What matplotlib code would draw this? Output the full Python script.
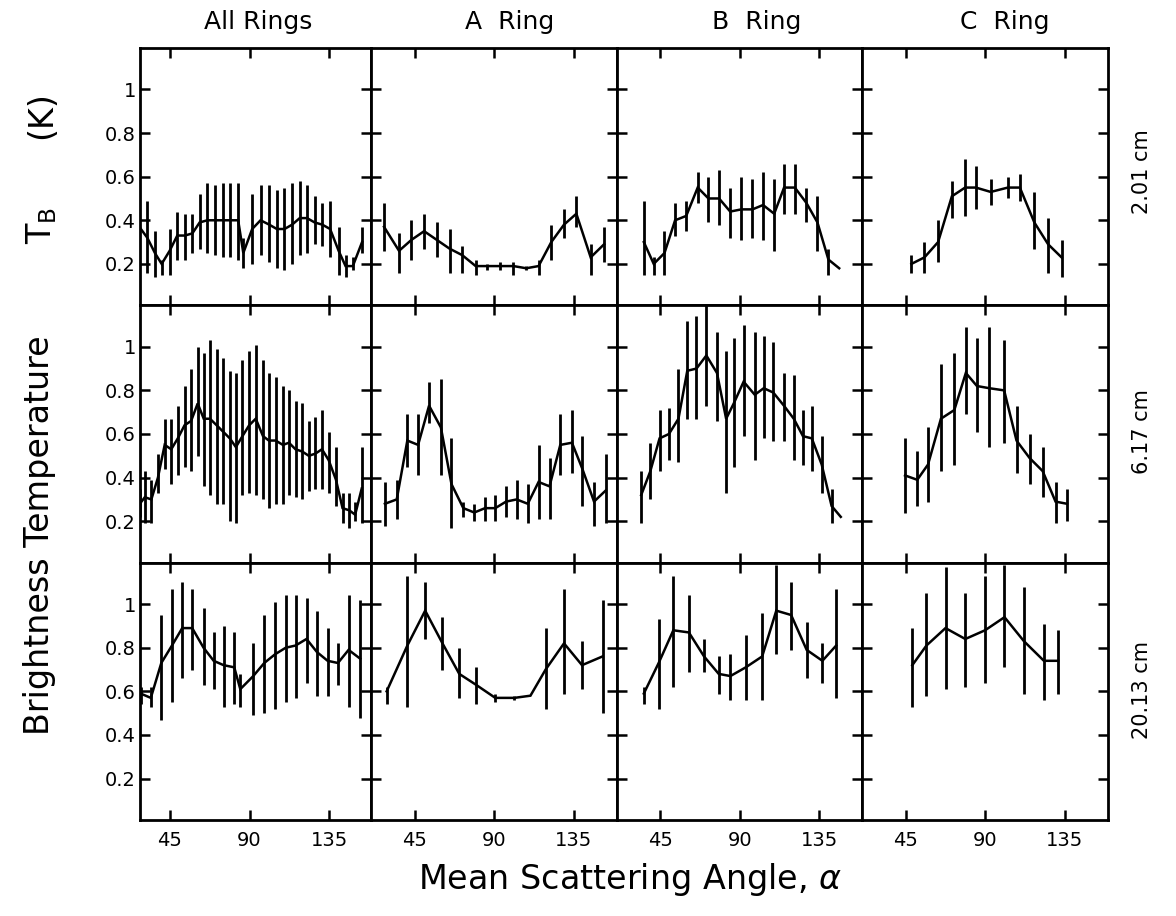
import matplotlib
matplotlib.use("Agg")
import matplotlib.pyplot as plt
import numpy as np

# ---------------- data ----------------
columns = ["All Rings", "A  Ring", "B  Ring", "C  Ring"]
wavelengths = ["2.01 cm", "6.17 cm", "20.13 cm"]
x_ticks = [45, 90, 135]
y_ticks = [0.2, 0.4, 0.6, 0.8, 1.0]
y_tick_labels = ["0.2", "0.4", "0.6", "0.8", "1"]

# --- 2.01 cm ---
all_201_x = [27.0, 32.4, 36.7, 40.5, 45.0, 49.3, 53.6, 57.8, 61.9, 66.2, 70.5, 74.8, 79.1, 83.6, 86.5,
             91.5, 96.2, 101.1, 105.4, 109.7, 114.0, 118.3, 122.4, 126.7, 131.0, 135.4, 140.2, 144.1, 148.2, 153.4]
all_201_t = [0.38, 0.32, 0.25, 0.20, 0.26, 0.33, 0.33, 0.34, 0.39, 0.40, 0.40, 0.40, 0.40, 0.40, 0.25,
             0.36, 0.40, 0.38, 0.36, 0.36, 0.38, 0.41, 0.41, 0.39, 0.38, 0.36, 0.26, 0.19, 0.19, 0.30]
all_201_lo = [0.30, 0.16, 0.14, 0.15, 0.15, 0.22, 0.22, 0.25, 0.27, 0.25, 0.24, 0.23, 0.23, 0.22, 0.18,
              0.20, 0.24, 0.21, 0.18, 0.17, 0.20, 0.24, 0.25, 0.29, 0.28, 0.23, 0.15, 0.14, 0.17, 0.25]
all_201_hi = [0.45, 0.49, 0.35, 0.22, 0.36, 0.44, 0.43, 0.43, 0.52, 0.57, 0.56, 0.57, 0.57, 0.57, 0.32,
              0.52, 0.56, 0.56, 0.54, 0.55, 0.57, 0.58, 0.56, 0.51, 0.48, 0.49, 0.37, 0.24, 0.23, 0.37]

a_201_x = [27.6, 36.1, 43.1, 50.3, 57.5, 64.7, 71.9, 79.5, 85.7, 93.3, 100.9, 108.1, 115.1, 122.3, 129.5, 136.5, 144.6, 152.2]
a_201_t = [0.37, 0.26, 0.31, 0.35, 0.31, 0.27, 0.24, 0.19, 0.19, 0.19, 0.19, 0.18, 0.19, 0.30, 0.38, 0.43, 0.23, 0.29]
a_201_lo = [0.26, 0.16, 0.22, 0.27, 0.23, 0.16, 0.16, 0.15, 0.17, 0.17, 0.15, 0.17, 0.15, 0.22, 0.32, 0.37, 0.15, 0.21]
a_201_hi = [0.48, 0.34, 0.40, 0.43, 0.39, 0.36, 0.28, 0.22, 0.20, 0.21, 0.21, 0.19, 0.22, 0.38, 0.45, 0.51, 0.29, 0.37]

b_201_x = [35.7, 41.3, 47.4, 53.4, 59.7, 66.2, 72.3, 78.3, 84.6, 90.9, 97.2, 103.2, 109.5, 115.1, 121.2, 127.7, 134.0, 140.2, 146.3]
b_201_t = [0.30, 0.20, 0.25, 0.40, 0.42, 0.55, 0.50, 0.50, 0.44, 0.45, 0.45, 0.47, 0.43, 0.55, 0.55, 0.48, 0.39, 0.22, 0.18]
b_201_lo = [0.15, 0.15, 0.15, 0.33, 0.35, 0.48, 0.39, 0.38, 0.32, 0.31, 0.32, 0.31, 0.26, 0.43, 0.43, 0.39, 0.26, 0.15, 0.18]
b_201_hi = [0.49, 0.23, 0.35, 0.48, 0.49, 0.62, 0.60, 0.63, 0.55, 0.60, 0.59, 0.62, 0.59, 0.66, 0.66, 0.55, 0.51, 0.27, 0.18]

c_201_x = [48.2, 55.6, 63.3, 71.1, 78.6, 84.7, 93.1, 102.8, 109.6, 117.8, 125.6, 133.2]
c_201_t = [0.20, 0.23, 0.30, 0.51, 0.55, 0.55, 0.53, 0.55, 0.55, 0.39, 0.29, 0.23]
c_201_lo = [0.16, 0.16, 0.21, 0.41, 0.42, 0.45, 0.47, 0.50, 0.49, 0.27, 0.16, 0.14]
c_201_hi = [0.24, 0.30, 0.40, 0.58, 0.68, 0.65, 0.59, 0.60, 0.61, 0.53, 0.41, 0.31]

# --- 6.17 cm ---
all_617_x = [28.2, 31.0, 34.7, 38.4, 42.2, 45.9, 49.6, 53.4, 57.1, 60.8, 64.2, 67.7, 71.5, 75.2, 78.9, 82.3, 86.0, 89.8,
             93.5, 97.6, 100.9, 104.7, 108.8, 112.2, 115.9, 119.6, 123.4, 127.1, 130.8, 134.6, 138.7, 142.4, 146.2, 149.5, 153.2]
all_617_t = [0.28, 0.31, 0.30, 0.40, 0.55, 0.53, 0.58, 0.64, 0.66, 0.74, 0.67, 0.67, 0.64, 0.61, 0.58, 0.54, 0.59, 0.64,
             0.67, 0.59, 0.57, 0.57, 0.55, 0.56, 0.53, 0.52, 0.50, 0.51, 0.53, 0.48, 0.39, 0.26, 0.25, 0.23, 0.35]
all_617_lo = [0.22, 0.19, 0.19, 0.33, 0.44, 0.37, 0.41, 0.45, 0.43, 0.50, 0.36, 0.32, 0.28, 0.28, 0.20, 0.19, 0.32, 0.33,
              0.32, 0.30, 0.26, 0.28, 0.28, 0.32, 0.31, 0.30, 0.34, 0.35, 0.35, 0.33, 0.27, 0.19, 0.17, 0.20, 0.19]
all_617_hi = [0.35, 0.43, 0.39, 0.51, 0.67, 0.67, 0.73, 0.82, 0.90, 1.00, 0.97, 1.03, 0.99, 0.95, 0.89, 0.88, 0.94, 0.98,
              1.01, 0.94, 0.88, 0.86, 0.82, 0.80, 0.75, 0.74, 0.66, 0.68, 0.71, 0.61, 0.54, 0.33, 0.33, 0.29, 0.54]

a_617_x = [28.1, 34.8, 40.8, 46.9, 53.1, 59.8, 65.8, 72.5, 78.7, 84.8, 90.6, 96.7, 102.7, 109.0, 115.1, 121.3, 127.4, 134.0, 139.9, 146.5, 153.0]
a_617_t = [0.28, 0.30, 0.57, 0.55, 0.73, 0.63, 0.37, 0.26, 0.24, 0.26, 0.26, 0.29, 0.30, 0.28, 0.38, 0.36, 0.55, 0.56, 0.44, 0.29, 0.34]
a_617_lo = [0.18, 0.21, 0.45, 0.41, 0.65, 0.41, 0.17, 0.22, 0.20, 0.20, 0.20, 0.22, 0.21, 0.19, 0.21, 0.21, 0.41, 0.42, 0.27, 0.18, 0.19]
a_617_hi = [0.38, 0.39, 0.69, 0.69, 0.84, 0.85, 0.58, 0.29, 0.28, 0.31, 0.32, 0.36, 0.39, 0.37, 0.55, 0.49, 0.69, 0.71, 0.59, 0.38, 0.51]

b_617_x = [34.2, 39.4, 44.6, 49.9, 55.3, 60.3, 65.5, 71.1, 77.1, 82.3, 86.6, 92.2, 98.5, 103.6, 109.0, 115.0, 120.6, 125.8, 130.8, 136.4, 142.0, 147.2]
b_617_t = [0.32, 0.43, 0.58, 0.60, 0.67, 0.89, 0.90, 0.96, 0.88, 0.67, 0.74, 0.84, 0.78, 0.81, 0.79, 0.73, 0.67, 0.59, 0.58, 0.46, 0.27, 0.22]
b_617_lo = [0.19, 0.30, 0.43, 0.48, 0.47, 0.67, 0.67, 0.73, 0.66, 0.33, 0.45, 0.59, 0.48, 0.58, 0.57, 0.57, 0.48, 0.46, 0.43, 0.33, 0.19, 0.22]
b_617_hi = [0.43, 0.56, 0.71, 0.72, 0.90, 1.12, 1.14, 1.20, 1.07, 0.98, 1.04, 1.10, 1.07, 1.05, 1.02, 0.88, 0.87, 0.71, 0.73, 0.59, 0.35, 0.22]

c_617_x = [44.6, 51.5, 57.6, 64.9, 72.5, 79.0, 85.3, 92.3, 100.7, 107.7, 115.1, 122.5, 129.8, 136.3]
c_617_t = [0.41, 0.39, 0.46, 0.67, 0.71, 0.88, 0.82, 0.81, 0.80, 0.57, 0.49, 0.43, 0.29, 0.28]
c_617_lo = [0.24, 0.27, 0.29, 0.43, 0.46, 0.69, 0.61, 0.54, 0.56, 0.42, 0.37, 0.31, 0.19, 0.20]
c_617_hi = [0.58, 0.52, 0.63, 0.92, 0.97, 1.09, 1.04, 1.09, 1.03, 0.73, 0.60, 0.54, 0.38, 0.35]

# --- 20.13 cm ---
all_2013_x = [28.6, 34.4, 40.3, 46.3, 52.1, 57.7, 64.1, 69.8, 75.4, 81.4, 84.8, 92.1, 98.3, 104.4, 110.4, 115.9, 122.1,
              128.0, 134.0, 139.8, 145.8, 152.3]
all_2013_t = [0.59, 0.57, 0.73, 0.81, 0.89, 0.89, 0.80, 0.74, 0.72, 0.71, 0.61, 0.67, 0.73, 0.77, 0.80, 0.81, 0.84,
              0.78, 0.74, 0.73, 0.79, 0.75]
all_2013_lo = [0.54, 0.53, 0.47, 0.55, 0.66, 0.70, 0.63, 0.61, 0.53, 0.54, 0.53, 0.49, 0.50, 0.52, 0.55, 0.57, 0.64,
               0.58, 0.58, 0.63, 0.53, 0.48]
all_2013_hi = [0.62, 0.62, 0.95, 1.07, 1.10, 1.07, 0.98, 0.87, 0.90, 0.87, 0.68, 0.82, 0.95, 1.01, 1.04, 1.04, 1.03,
               0.97, 0.89, 0.82, 1.04, 1.02]

a_2013_x = [29.1, 40.8, 50.9, 60.7, 70.2, 79.7, 90.6, 101.4, 110.5, 119.1, 129.5, 139.7, 151.3]
a_2013_t = [0.60, 0.81, 0.97, 0.82, 0.68, 0.63, 0.57, 0.57, 0.58, 0.70, 0.82, 0.72, 0.76]
a_2013_lo = [0.54, 0.53, 0.84, 0.70, 0.57, 0.54, 0.55, 0.56, 0.58, 0.52, 0.59, 0.61, 0.50]
a_2013_hi = [0.62, 1.13, 1.10, 0.94, 0.80, 0.71, 0.59, 0.58, 0.58, 0.89, 1.07, 0.83, 1.02]

b_2013_x = [35.7, 44.1, 52.4, 61.2, 69.8, 78.1, 84.7, 93.4, 102.7, 110.7, 119.1, 127.9, 136.8, 144.6]
b_2013_t = [0.59, 0.73, 0.88, 0.87, 0.76, 0.68, 0.67, 0.71, 0.76, 0.97, 0.95, 0.79, 0.74, 0.81]
b_2013_lo = [0.54, 0.52, 0.62, 0.69, 0.69, 0.59, 0.56, 0.56, 0.56, 0.77, 0.79, 0.66, 0.64, 0.57]
b_2013_hi = [0.62, 0.93, 1.13, 1.04, 0.84, 0.76, 0.77, 0.86, 0.96, 1.18, 1.10, 0.92, 0.82, 1.07]

c_2013_x = [48.7, 56.7, 67.5, 78.7, 89.9, 100.9, 111.9, 123.2, 131.2]
c_2013_t = [0.72, 0.81, 0.89, 0.84, 0.88, 0.94, 0.83, 0.74, 0.74]
c_2013_lo = [0.53, 0.58, 0.61, 0.62, 0.64, 0.71, 0.59, 0.56, 0.59]
c_2013_hi = [0.89, 1.05, 1.17, 1.05, 1.13, 1.18, 1.08, 0.91, 0.88]

panels = [
    [(all_201_x, all_201_t, all_201_lo, all_201_hi), (a_201_x, a_201_t, a_201_lo, a_201_hi),
     (b_201_x, b_201_t, b_201_lo, b_201_hi), (c_201_x, c_201_t, c_201_lo, c_201_hi)],
    [(all_617_x, all_617_t, all_617_lo, all_617_hi), (a_617_x, a_617_t, a_617_lo, a_617_hi),
     (b_617_x, b_617_t, b_617_lo, b_617_hi), (c_617_x, c_617_t, c_617_lo, c_617_hi)],
    [(all_2013_x, all_2013_t, all_2013_lo, all_2013_hi), (a_2013_x, a_2013_t, a_2013_lo, a_2013_hi),
     (b_2013_x, b_2013_t, b_2013_lo, b_2013_hi), (c_2013_x, c_2013_t, c_2013_lo, c_2013_hi)],
]
col_xlims = [(28.3, 158.7), (20.5, 159.5), (20.5, 159.5), (20.5, 159.5)]

# ---------------- figure ----------------
plt.rcParams['font.family'] = ['DejaVu Sans']
W, H = 1176, 916
fig, axes = plt.subplots(3, 4, figsize=(W / 100, H / 100), dpi=100,
                         gridspec_kw=dict(width_ratios=[231, 245, 245, 245]))
fig.subplots_adjust(left=140 / W, right=1108 / W, top=1 - 48 / H, bottom=1 - 820 / H,
                    wspace=0, hspace=0)

for r in range(3):
    for c in range(4):
        ax = axes[r, c]
        x, t, lo, hi = panels[r][c]
        ax.vlines(x, lo, hi, color='black', lw=2.0)
        ax.plot(x, t, color='black', lw=1.8, solid_joinstyle='miter')
        ax.set_xlim(*col_xlims[c])
        ax.set_ylim(0.01, 1.19)
        ax.set_xticks(x_ticks)
        ax.set_yticks(y_ticks)
        ax.set_yticklabels(y_tick_labels)
        ax.tick_params(direction='in', length=7.5, width=1.8, top=True, right=True,
                       labelsize=14, labelbottom=(r == 2), labelleft=(c == 0))
        ax.tick_params(axis='x', pad=8)
        ax.tick_params(axis='y', pad=3)
        for sp in ax.spines.values():
            sp.set_linewidth(2.0)

col_title_x = [258, 510, 757, 1005]
for c, name in enumerate(columns):
    fig.text(col_title_x[c] / W, 1 - 22 / H, name, ha='center', va='center', fontsize=18)

row_centers = [172, 432, 690]
for r, name in enumerate(wavelengths):
    fig.text(1142 / W, 1 - row_centers[r] / H, name, ha='center', va='center',
             rotation=90, fontsize=15)

fig.text(630 / W, 1 - 880 / H, r"Mean Scattering Angle, $\alpha$", ha='center', va='center', fontsize=24)
fig.text(40 / W, 1 - 535 / H, "Brightness Temperature", ha='center', va='center',
         rotation=90, fontsize=24)
fig.text(42 / W, 1 - 225 / H, r"$\mathregular{T_B}$", ha='center', va='center',
         rotation=90, fontsize=24)
fig.text(42 / W, 1 - 115 / H, "(K)", ha='center', va='center', rotation=90, fontsize=24)

fig.savefig("out.png", dpi=100)
